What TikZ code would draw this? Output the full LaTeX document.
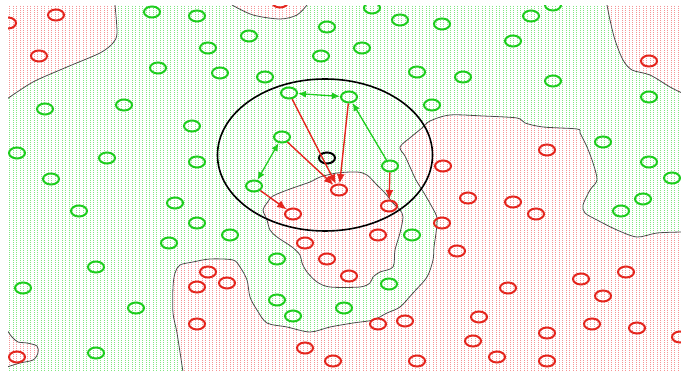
\documentclass[tikz,border=0pt]{standalone}
\usetikzlibrary{shapes.geometric,arrows.meta}
\definecolor{gc}{RGB}{30,205,30}
\definecolor{rc}{RGB}{228,38,30}
\definecolor{gdot}{RGB}{130,230,130}
\definecolor{rdot}{RGB}{245,150,150}
\definecolor{bcol}{RGB}{75,75,75}
\tikzset{
 gcirc/.style={ellipse, draw=gc, line width=2pt, minimum width=16pt, minimum height=11pt, inner sep=0pt},
 rcirc/.style={gcirc, draw=rc},
 kcirc/.style={gcirc, draw=black},
 bound/.style={draw=bcol, line width=0.8pt},
 garr/.style={draw=gc, line width=1.3pt, -{Latex[length=8pt,width=7pt]}},
 garrtwo/.style={draw=gc, line width=1.3pt, {Latex[length=8pt,width=7pt]}-{Latex[length=8pt,width=7pt]}},
 rarr/.style={draw=rc, line width=1.4pt, -{Latex[length=9.5pt,width=8pt]}},
 gstip/.style={draw=gdot, line width=1pt, dash pattern=on 1pt off 1pt},
 rstip/.style={draw=rdot, line width=1pt, dash pattern=on 1pt off 1pt},
 smoothy/.style={smooth, tension=0.5},
}
\begin{document}
\begin{tikzpicture}[x=1pt,y=-1pt]
\useasboundingbox (0,0) rectangle (681,371);
\begin{scope}
\clip (8,6) rectangle (681,371);
\foreach \i in {0,...,200} \draw[gstip] ({9.5+3.5*\i},6) -- ({9.5+3.5*\i},372);
\begin{scope}
\clip plot[smoothy] coordinates {(115,5) (117,33) (113,43) (100,53) (67,67) (33,82) (7,99)} -- (7,5) -- cycle
 plot[smoothy] coordinates {(232,5) (253,15) (280,19) (297,15) (307,5)} -- cycle
 plot[smoothy] coordinates {(607,5) (610,20) (615,40) (623,60) (632,70) (650,75) (670,87) (682,93)} -- (682,5) -- cycle
 plot[smoothy] coordinates {(183,372) (177,333) (173,313) (173,287) (175,273) (180,265) (193,262) (210,259) (233,260) (240,267) (247,280) (250,297) (257,310) (267,323) (287,327) (310,332) (330,327) (353,323) (373,320) (387,313) (400,307) (413,293) (427,277) (433,260) (434,247) (436,233) (437,218) (432,207) (424,193) (416,180) (410,167) (405,156) (400,147) (411,137) (422,128) (430,121) (450,115) (483,116) (517,118) (525,123) (543,127) (577,129) (580,133) (587,147) (593,163) (597,180) (590,190) (583,205) (585,213) (597,220) (617,230) (637,237) (657,233) (682,232)} -- (682,372) -- cycle
 plot[smooth cycle, tension=0.5] coordinates {(263,210) (267,203) (273,196) (290,189) (310,182) (320,177) (337,173) (357,172) (367,175) (377,185) (385,193) (393,203) (400,210) (403,217) (400,233) (395,250) (393,267) (380,272) (373,277) (370,283) (360,287) (330,287) (317,282) (307,272) (302,263) (300,255) (292,247) (277,237) (270,230) (267,220)}
 plot[smoothy] coordinates {(7,330) (12,337) (18,342) (27,343) (37,346) (38,353) (33,360) (20,363) (7,367)} -- cycle;
\fill[white] (0,0) rectangle (682,372);
\foreach \i in {0,...,200} \draw[rstip] ({9.5+3.5*\i},6) -- ({9.5+3.5*\i},372);
\end{scope}
% boundaries
\draw[bound] plot[smoothy] coordinates {(115,5) (117,33) (113,43) (100,53) (67,67) (33,82) (7,99)};
\draw[bound] plot[smoothy] coordinates {(232,5) (253,15) (280,19) (297,15) (307,5)};
\draw[bound] plot[smoothy] coordinates {(607,5) (610,20) (615,40) (623,60) (632,70) (650,75) (670,87) (682,93)};
\draw[bound] plot[smoothy] coordinates {(183,372) (177,333) (173,313) (173,287) (175,273) (180,265) (193,262) (210,259) (233,260) (240,267) (247,280) (250,297) (257,310) (267,323) (287,327) (310,332) (330,327) (353,323) (373,320) (387,313) (400,307) (413,293) (427,277) (433,260) (434,247) (436,233) (437,218) (432,207) (424,193) (416,180) (410,167) (405,156) (400,147) (411,137) (422,128) (430,121) (450,115) (483,116) (517,118) (525,123) (543,127) (577,129) (580,133) (587,147) (593,163) (597,180) (590,190) (583,205) (585,213) (597,220) (617,230) (637,237) (657,233) (682,232)};
\draw[bound] plot[smooth cycle, tension=0.5] coordinates {(263,210) (267,203) (273,196) (290,189) (310,182) (320,177) (337,173) (357,172) (367,175) (377,185) (385,193) (393,203) (400,210) (403,217) (400,233) (395,250) (393,267) (380,272) (373,277) (370,283) (360,287) (330,287) (317,282) (307,272) (302,263) (300,255) (292,247) (277,237) (270,230) (267,220)};
\draw[bound] plot[smoothy] coordinates {(7,330) (12,337) (18,342) (27,343) (37,346) (38,353) (33,360) (20,363) (7,367)};
% green circles
\foreach \x/\y [count=\i] in {152/12, 197/16, 208/48, 220/73, 158/68, 45/109, 124/105, 192/126, 17/153, 107/158, 197/162, 51/179,
 372/8, 400/20, 442/24, 249/36, 327/27, 362/48, 321/56, 265/77, 417/72, 432/105,
 531/16, 553/5, 513/41, 463/77, 553/81, 649/97, 603/142, 649/162, 672/178, 643/199, 621/211,
 79/211, 175/203, 197/223, 169/243, 230/235, 96/267, 23/288, 136/308, 96/353,
 277/259, 412/235, 389/284, 277/300, 293/316, 344/308}
 \node[gcirc] (g\i) at (\x,\y) {};
% red circles
\foreach \x/\y [count=\i] in {8/23, 56/15, 39/56, 280/2, 649/61, 547/150, 443/166, 468/198, 513/202, 536/214, 442/223,
 378/235, 305/243, 327/259, 349/276, 457/251, 508/288, 581/279, 626/272, 603/296, 479/317, 473/341, 497/357,
 547/333, 547/361, 592/324, 637/328, 680/337, 378/324, 405/321, 305/348, 333/361, 417/361, 227/283, 208/272,
 197/287, 197/324, 17/357}
 \node[rcirc] (r\i) at (\x,\y) {};
% big ellipse
\node[ellipse, draw=black, line width=1.6pt, minimum width=215pt, minimum height=152pt, inner sep=0pt] (big) at (325,155) {};
% named circles
\node[gcirc] (gA) at (289,93) {};
\node[gcirc] (gB) at (349,97) {};
\node[gcirc] (gC) at (282,137) {};
\node[gcirc] (gD) at (254,186) {};
\node[gcirc] (gE) at (390,166) {};
\node[rcirc] (rA) at (339,190) {};
\node[rcirc] (rB) at (293,214) {};
\node[rcirc] (rC) at (389,206) {};
\node[kcirc] (k) at (327,158) {};
% arrows
\draw[garrtwo] (gA) -- (gB);
\draw[garrtwo] (gC) -- (gD);
\draw[garr] (gE) -- (gB);
\draw[rarr] (gA) -- (rA);
\draw[rarr] (gB) -- (rA);
\draw[rarr] (gC) -- (rA);
\draw[rarr] (gD) -- (rB);
\draw[rarr] (gE) -- (rC);
\end{scope}
\end{tikzpicture}
\end{document}
